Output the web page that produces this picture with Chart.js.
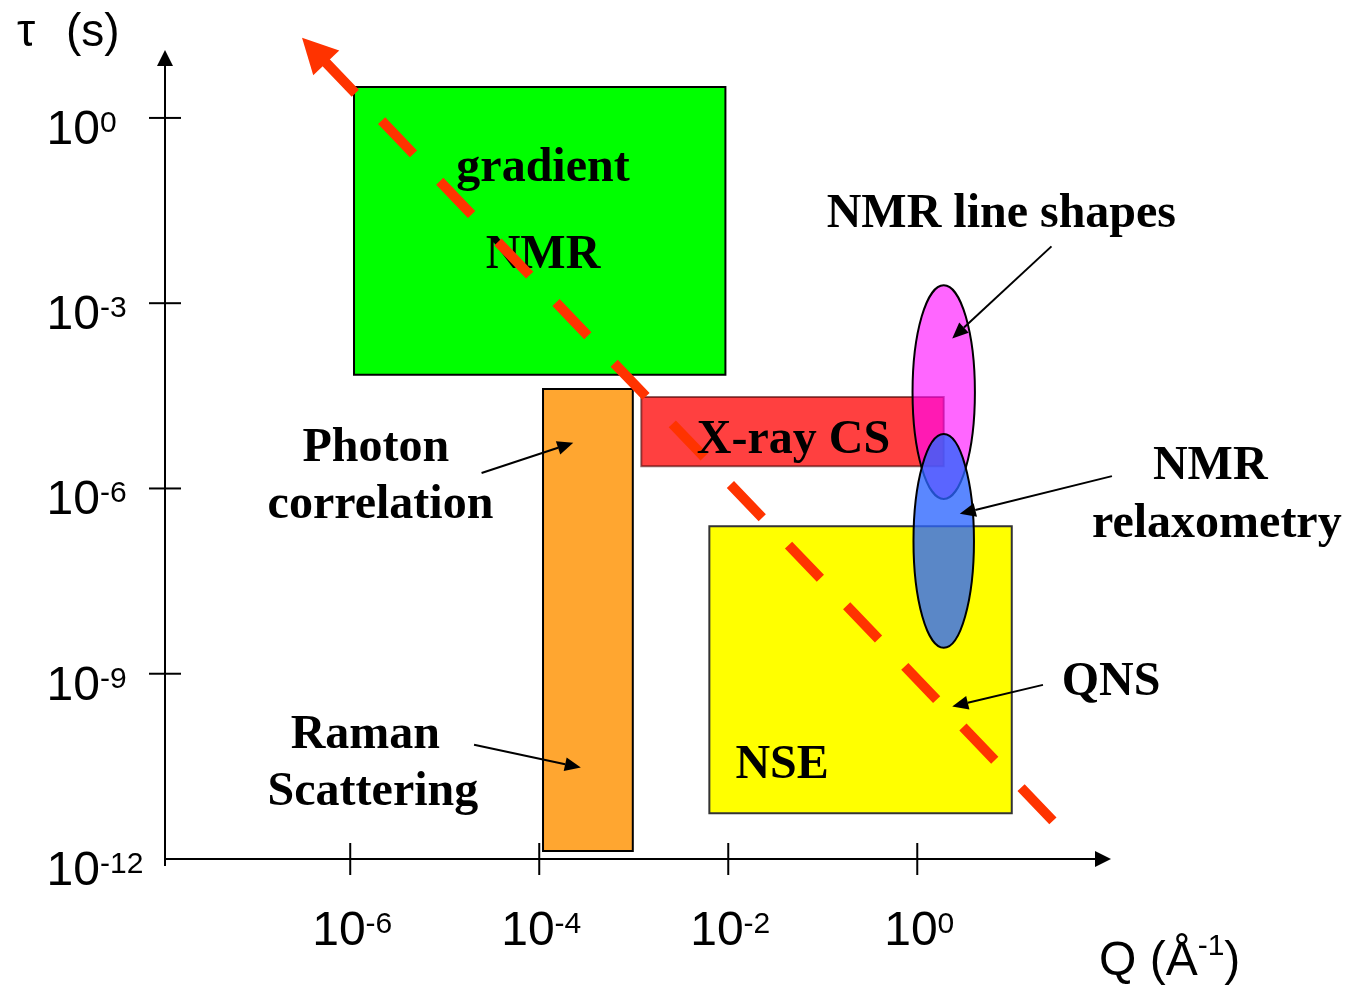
<!DOCTYPE html>
<html>
<head>
<meta charset="utf-8">
<script src="https://cdn.jsdelivr.net/npm/chart.js@4.4.1/dist/chart.umd.min.js"></script>
<style>
  html, body { margin: 0; padding: 0; background: #ffffff; }
  canvas { display: block; }
</style>
</head>
<body>
<canvas id="map" width="1346" height="987"></canvas>
<script>
// All values are decimal exponents: x = log10(Q / Å^-1), y = log10(τ / s)

// Rectangular windows covered by each technique
const boxNames   = ['gradient NMR', 'Photon correlation / Raman scattering', 'X-ray CS', 'NSE'];
const boxQFrom   = [-5.96, -3.96, -2.92, -2.20];
const boxQTo     = [-2.03, -3.01,  0.28,  1.00];
const boxTauFrom = [-4.16, -11.87, -5.64, -11.26];
const boxTauTo   = [ 0.50,  -4.39, -4.52,  -6.61];

// Oval windows (centre and half extent, in decades)
const ovalNames   = ['NMR line shapes', 'NMR relaxometry'];
const ovalQ       = [0.28, 0.28];
const ovalTau     = [-4.44, -6.85];
const ovalQHalf   = [0.33, 0.32];
const ovalTauHalf = [1.73, 1.73];

// Dashed guide line, from its arrow tip down to its end
const guideQ   = [-6.51, 1.44];
const guideTau = [1.30, -11.39];

// Axis ticks (exponents of ten)
const qTickExps   = [-6, -4, -2, 0];
const tauTickExps = [0, -3, -6, -9, -12];

// ---- styling ----
const boxFill   = ['#00FF00', '#FFA630', 'rgba(255,0,0,0.75)', '#FFFF00'];
const boxBorder = ['#000000', '#000000', 'rgba(70,0,0,0.6)', '#333333'];
const ovalFill  = ['rgba(255,0,255,0.6)', 'rgba(43,101,255,0.78)'];
const guideColor = '#FF3300';

const SERIF_BOLD = 'bold 48px "Liberation Serif", "Times New Roman", serif';
const SANS = '"Liberation Sans", Arial, sans-serif';

// Text placed on the map (data coordinates); "under" ones sit below the dashed line
const labelSpots = [
  {text: 'gradient',        q: -3.96, tau: -1.02, under: true},
  {text: 'NMR',             q: -3.96, tau: -2.43, under: true},
  {text: 'X-ray CS',        q: -1.31, tau: -5.43},
  {text: 'Photon',          q: -5.73, tau: -5.55},
  {text: 'correlation',     q: -5.68, tau: -6.48},
  {text: 'Raman',           q: -5.84, tau: -10.21},
  {text: 'Scattering',      q: -5.76, tau: -11.13},
  {text: 'NMR line shapes', q: 0.89,  tau: -1.77},
  {text: 'NMR',             q: 3.10,  tau: -5.85},
  {text: 'relaxometry',     q: 3.17,  tau: -6.79},
  {text: 'QNS',             q: 2.05,  tau: -9.34},
  {text: 'NSE',             q: -1.43, tau: -10.69}
];

// Pointer arrows from a label to its region
const pointers = [
  {from: [-4.61, -5.75],  to: [-3.64, -5.26]},
  {from: [-4.69, -10.15], to: [-3.56, -10.52]},
  {from: [1.42, -2.08],   to: [0.37, -3.57]},
  {from: [2.06, -5.80],   to: [0.45, -6.41]},
  {from: [1.33, -9.18],   to: [0.37, -9.53]}
];

// ---- datasets ----
const boxSets = boxNames.map((name, i) => ({
  label: name,
  data: [
    {x: boxQFrom[i], y: boxTauFrom[i]},
    {x: boxQTo[i],   y: boxTauFrom[i]},
    {x: boxQTo[i],   y: boxTauTo[i]},
    {x: boxQFrom[i], y: boxTauTo[i]},
    {x: boxQFrom[i], y: boxTauFrom[i]}
  ],
  fill: 'shape',
  backgroundColor: boxFill[i],
  borderColor: boxBorder[i],
  borderWidth: 2,
  borderJoinStyle: 'miter',
  borderCapStyle: 'square',
  pointRadius: 0,
  tension: 0,
  order: 1 + i
}));

const guideSet = {
  label: 'guide',
  data: guideQ.map((q, i) => ({x: q, y: guideTau[i]})),
  fill: false,
  borderColor: guideColor,
  borderWidth: 10,
  borderDash: [46, 38],
  borderDashOffset: 53,
  borderCapStyle: 'butt',
  pointRadius: 0,
  tension: 0,
  order: 0,
  clip: false
};

const GUIDE_INDEX = boxSets.length;

// ---- drawing helpers ----
function arrowHead(ctx, tipX, tipY, fromX, fromY, len, half) {
  const dx = tipX - fromX, dy = tipY - fromY;
  const d = Math.hypot(dx, dy);
  const ux = dx / d, uy = dy / d;
  const bx = tipX - ux * len, by = tipY - uy * len;
  ctx.beginPath();
  ctx.moveTo(tipX, tipY);
  ctx.lineTo(bx - uy * half, by + ux * half);
  ctx.lineTo(bx + uy * half, by - ux * half);
  ctx.closePath();
  ctx.fill();
  return [bx, by];
}

// "10" with a superscript exponent; anchor 'center' centres the whole label,
// anchor 'base' puts the right edge of "10" at x
function drawPower(ctx, exp, x, baseline, anchor) {
  const main = '10', sup = String(exp);
  ctx.font = '48px ' + SANS;
  const wm = ctx.measureText(main).width;
  ctx.font = '30px ' + SANS;
  const ws = ctx.measureText(sup).width;
  const left = anchor === 'center' ? x - (wm + ws) / 2 : x - wm;
  ctx.textAlign = 'left';
  ctx.textBaseline = 'alphabetic';
  ctx.font = '48px ' + SANS;
  ctx.fillText(main, left, baseline);
  ctx.font = '30px ' + SANS;
  ctx.fillText(sup, left + wm, baseline - 12);
}

function drawAxes(chart) {
  const {ctx, chartArea: a, scales: {x, y}} = chart;
  ctx.save();
  ctx.strokeStyle = '#000';
  ctx.fillStyle = '#000';
  ctx.lineWidth = 2;

  // vertical axis with arrow
  ctx.beginPath();
  ctx.moveTo(a.left, a.bottom + 7);
  ctx.lineTo(a.left, a.top + 12);
  ctx.stroke();
  arrowHead(ctx, a.left, a.top, a.left, a.top + 50, 16, 8);

  // horizontal axis with arrow
  ctx.beginPath();
  ctx.moveTo(a.left, a.bottom);
  ctx.lineTo(a.right - 12, a.bottom);
  ctx.stroke();
  arrowHead(ctx, a.right, a.bottom, a.right - 50, a.bottom, 16, 8);

  // ticks crossing the axes
  tauTickExps.forEach(e => {
    if (e === y.min) return;
    const py = y.getPixelForValue(e);
    ctx.beginPath();
    ctx.moveTo(a.left - 16, py);
    ctx.lineTo(a.left + 16, py);
    ctx.stroke();
  });
  qTickExps.forEach(e => {
    const px = x.getPixelForValue(e);
    ctx.beginPath();
    ctx.moveTo(px, a.bottom - 16);
    ctx.lineTo(px, a.bottom + 16);
    ctx.stroke();
  });

  // tick labels
  tauTickExps.forEach(e => {
    drawPower(ctx, e, a.left - 65, y.getPixelForValue(e) + 26, 'base');
  });
  qTickExps.forEach(e => {
    drawPower(ctx, e, x.getPixelForValue(e) + 2, a.bottom + 86, 'center');
  });

  // axis titles
  ctx.textAlign = 'left';
  ctx.font = '46px ' + SANS;
  ctx.fillText('τ', 17, 46);
  ctx.fillText('(s)', 66, 46);

  let qx = a.right - 12;
  const qy = a.bottom + 116;
  ctx.font = '48px ' + SANS;
  ctx.fillText('Q (Å', qx, qy);
  qx += ctx.measureText('Q (Å').width;
  ctx.font = '30px ' + SANS;
  ctx.fillText('-1', qx, qy - 20);
  qx += ctx.measureText('-1').width;
  ctx.font = '48px ' + SANS;
  ctx.fillText(')', qx, qy);
  ctx.restore();
}

function drawLabels(chart, under) {
  const {ctx, scales: {x, y}} = chart;
  ctx.save();
  ctx.fillStyle = '#000';
  ctx.font = SERIF_BOLD;
  ctx.textAlign = 'center';
  ctx.textBaseline = 'alphabetic';
  labelSpots.filter(s => !!s.under === under).forEach(s => {
    ctx.fillText(s.text, x.getPixelForValue(s.q), y.getPixelForValue(s.tau));
  });
  ctx.restore();
}

const mapPlugin = {
  id: 'techniqueMap',
  beforeDatasetsDraw(chart) {
    drawAxes(chart);
  },
  afterDatasetDraw(chart, args) {
    if (args.index === 0) drawLabels(chart, true);
  },
  afterDatasetsDraw(chart) {
    const {ctx, scales: {x, y}} = chart;
    ctx.save();

    // arrow tip of the dashed guide
    const g = chart.getDatasetMeta(GUIDE_INDEX).data;
    ctx.fillStyle = guideColor;
    arrowHead(ctx, g[0].x, g[0].y, g[1].x, g[1].y, 35, 18);

    // oval windows
    ovalNames.forEach((n, i) => {
      const cx = x.getPixelForValue(ovalQ[i]);
      const cy = y.getPixelForValue(ovalTau[i]);
      const rx = Math.abs(x.getPixelForValue(ovalQ[i] + ovalQHalf[i]) - cx);
      const ry = Math.abs(y.getPixelForValue(ovalTau[i] + ovalTauHalf[i]) - cy);
      ctx.beginPath();
      ctx.ellipse(cx, cy, rx, ry, 0, 0, Math.PI * 2);
      ctx.fillStyle = ovalFill[i];
      ctx.fill();
      ctx.lineWidth = 2;
      ctx.strokeStyle = '#000';
      ctx.stroke();
    });
    ctx.restore();

    drawLabels(chart, false);

    // pointer arrows
    ctx.save();
    ctx.strokeStyle = '#000';
    ctx.fillStyle = '#000';
    ctx.lineWidth = 2;
    pointers.forEach(p => {
      const fx = x.getPixelForValue(p.from[0]), fy = y.getPixelForValue(p.from[1]);
      const tx = x.getPixelForValue(p.to[0]),   ty = y.getPixelForValue(p.to[1]);
      const [bx, by] = arrowHead(ctx, tx, ty, fx, fy, 16, 7);
      ctx.beginPath();
      ctx.moveTo(fx, fy);
      ctx.lineTo(bx, by);
      ctx.stroke();
    });
    ctx.restore();
  }
};

new Chart(document.getElementById('map'), {
  type: 'line',
  data: { datasets: [...boxSets, guideSet] },
  options: {
    responsive: false,
    animation: false,
    events: [],
    layout: { padding: { left: 165, top: 50, right: 235, bottom: 128 } },
    scales: {
      x: { type: 'linear', min: -7.96, max: 2.05, display: false },
      y: { type: 'linear', min: -12, max: 1.10, display: false }
    },
    plugins: {
      legend: { display: false },
      tooltip: { enabled: false }
    }
  },
  plugins: [mapPlugin]
});
</script>
</body>
</html>
